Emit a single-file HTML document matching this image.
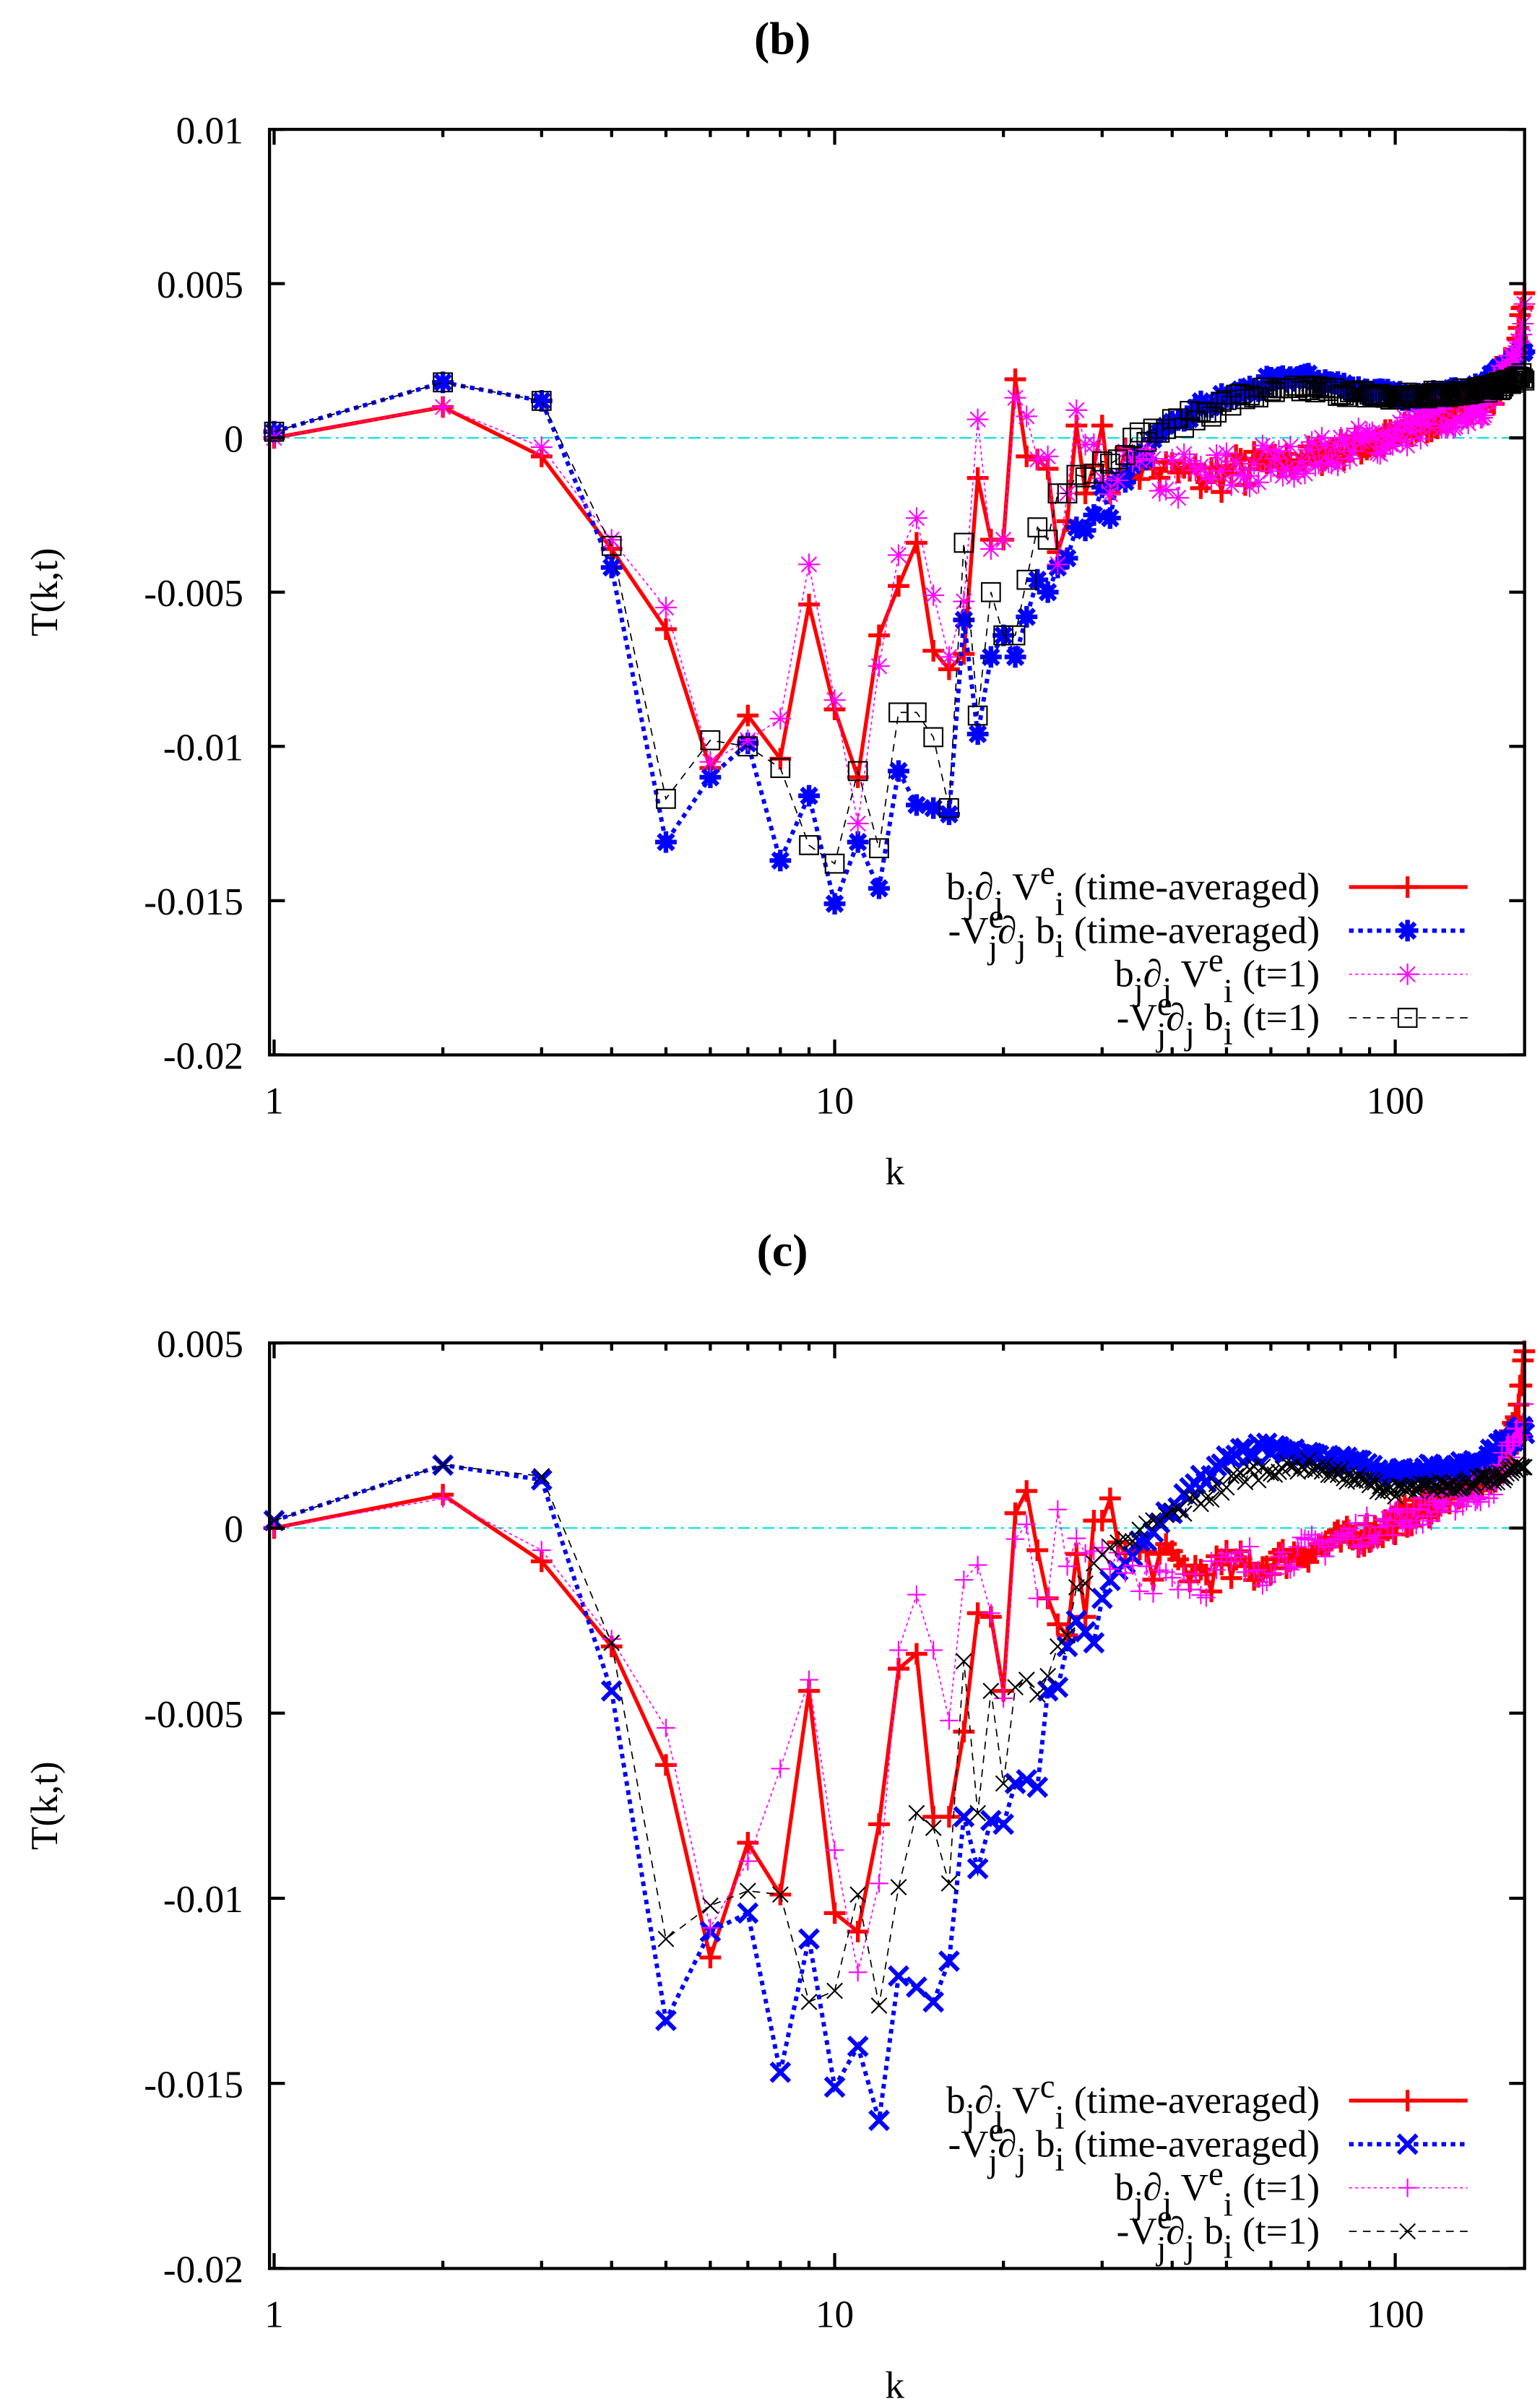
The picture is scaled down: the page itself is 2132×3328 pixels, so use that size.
<!DOCTYPE html>
<html><head><meta charset="utf-8"><style>html,body{margin:0;padding:0;background:#fff}svg{display:block}</style></head>
<body>
<svg id="s" width="2132" height="3328" viewBox="0 0 1000 1561" xmlns="http://www.w3.org/2000/svg" font-family="Liberation Serif, serif">
<rect width="1000" height="1561" fill="#fff"/>
<g id="g"></g>
</svg>
<script>
var g=document.getElementById('g');var out='';
var X0=178,DEC=364,R=990;
function xk(k){return X0+DEC*Math.log10(k);}
var seed=7;function rnd(){seed=(seed*16807)%2147483647;return seed/2147483647-0.5;}
function interp(anch,k){var lk=Math.log(k);for(var i=0;i<anch.length-1;i++){if(k<=anch[i+1][0]){var a=Math.log(anch[i][0]),b=Math.log(anch[i+1][0]);var t=(lk-a)/(b-a);return anch[i][1]+(anch[i+1][1]-anch[i][1])*t;}}return anch[anch.length-1][1];}
function series(first,anch,noise){var arr=first.slice();for(var k=first.length+1;k<=170;k++){var v=interp(anch,k)+noise*rnd()*(k<60?1.6:1);arr.push(v);}return arr;}
function marker(type,x,y,c,s,w){var o='';if(type=='plus'){o+='<path d="M'+(x-s)+' '+y+'H'+(x+s)+'M'+x+' '+(y-s)+'V'+(y+s)+'" stroke="'+c+'" stroke-width="'+w+'"/>';}
else if(type=='star'){var d=s*0.7;o+='<path d="M'+(x-s)+' '+y+'H'+(x+s)+'M'+x+' '+(y-s)+'V'+(y+s)+'M'+(x-d)+' '+(y-d)+'L'+(x+d)+' '+(y+d)+'M'+(x-d)+' '+(y+d)+'L'+(x+d)+' '+(y-d)+'" stroke="'+c+'" stroke-width="'+w+'"/>';}
else if(type=='x'){o+='<path d="M'+(x-s)+' '+(y-s)+'L'+(x+s)+' '+(y+s)+'M'+(x-s)+' '+(y+s)+'L'+(x+s)+' '+(y-s)+'" stroke="'+c+'" stroke-width="'+w+'"/>';}
else if(type=='sq'){o+='<rect x="'+(x-s)+'" y="'+(y-s)+'" width="'+(2*s)+'" height="'+(2*s)+'" fill="none" stroke="'+c+'" stroke-width="'+w+'"/>';}
return o;}
function panel(P){var top=P.top,bot=P.bot,ymax=P.ymax,ymin=P.ymin;
 function yv(v){return top+(ymax-v)/(ymax-ymin)*(bot-top);}
 var o='';
 o+='<text x="508" y="'+P.ty+'" font-size="30" font-weight="bold" text-anchor="middle">'+P.title+'</text>';
 // zero line
 o+='<line x1="175" x2="990" y1="'+yv(0)+'" y2="'+yv(0)+'" stroke="#00e0e0" stroke-width="1" stroke-dasharray="8,3,2,3"/>';
 // series
 P.S.forEach(function(s){var pts=s.d.map(function(v,i){return [xk(i+1),yv(v)];}).filter(function(p){return p[0]<=990.5;});
  o+='<polyline fill="none" points="'+pts.map(function(p){return p[0].toFixed(1)+','+p[1].toFixed(1);}).join(' ')+'" stroke="'+s.c+'" stroke-width="'+s.lw+'" '+(s.da?'stroke-dasharray="'+s.da+'"':'')+'/>';
  pts.forEach(function(p){o+=marker(s.m,p[0],p[1],s.c,s.ms,s.mw);});});
 // frame
 o+='<rect x="175" y="'+top+'" width="815" height="'+(bot-top)+'" fill="none" stroke="#000" stroke-width="2"/>';
 P.yt.forEach(function(v){var y=yv(v);o+='<path d="M175 '+y+'h10M990 '+y+'h-10" stroke="#000" stroke-width="2"/>';o+='<text x="158" y="'+(y+9)+'" font-size="25" text-anchor="end">'+P.yl(v)+'</text>';});
 for(var d=0;d<3;d++)for(var m=1;m<10;m++){var k=m*Math.pow(10,d);var x=xk(k);if(x>990)continue;var L=(m==1)?10:5;o+='<path d="M'+x+' '+bot+'v-'+L+'M'+x+' '+top+'v'+L+'" stroke="#000" stroke-width="2"/>';}
 [[1,'1'],[10,'10'],[100,'100']].forEach(function(a){o+='<text x="'+xk(a[0])+'" y="'+(bot+38)+'" font-size="25" text-anchor="middle">'+a[1]+'</text>';});
 o+='<text x="581" y="'+(bot+84)+'" font-size="25" text-anchor="middle">k</text>';
 var my=(top+bot)/2;o+='<text transform="translate(37,'+my+') rotate(-90)" font-size="25" text-anchor="middle">T(k,t)</text>';
 // legend
 P.L.forEach(function(l,i){var y=P.ly+i*28.3;var s=P.S[i];
  o+='<text x="857" y="'+(y+8)+'" font-size="25" text-anchor="end">'+l+'</text>';
  o+='<line x1="876" x2="953" y1="'+y+'" y2="'+y+'" stroke="'+s.c+'" stroke-width="'+s.lw+'" '+(s.da?'stroke-dasharray="'+s.da+'"':'')+'/>';
  o+=marker(s.m,914,y,s.c,s.ms,s.mw);});
 return o;}
function lab(a,b,c){return a;}
var subs=function(s){return s;};
// Panel b data
var bR=series([0,0.001,-0.0006,-0.0036,-0.0062,-0.0107,-0.009,-0.0104,-0.0054,-0.0088,-0.011,-0.0064,-0.0048,-0.0034,-0.0069,-0.0075,-0.007,-0.0013,-0.0033,-0.0033,0.0019,-0.0006,-0.0007,-0.001,-0.0037,-0.0027,0.0004,-0.0018,-0.0009,0.0004,-0.0018],[[31,-0.0008],[45,-0.0013],[60,-0.0009],[100,0],[150,0.0015],[165,0.003],[170,0.005]],0.0008);
var bB=series([0.0002,0.0018,0.0012,-0.0042,-0.0131,-0.011,-0.0099,-0.0137,-0.0116,-0.0151,-0.0131,-0.0146,-0.0108,-0.0119,-0.012,-0.0122,-0.0059,-0.0096,-0.0071,-0.0064,-0.0071,-0.0058,-0.0046,-0.005,-0.0042,-0.0039,-0.0029,-0.003,-0.0025,-0.0016,-0.0026],[[31,-0.0018],[38,0],[45,0.001],[60,0.0018],[68,0.002],[90,0.0015],[110,0.0013],[140,0.0016],[170,0.0028]],0.0003);
var bM=series([0,0.001,-0.0003,-0.0033,-0.0055,-0.0105,-0.0098,-0.0091,-0.0041,-0.0085,-0.0125,-0.0074,-0.0038,-0.0026,-0.0051,-0.0071,-0.0053,0.0006,-0.0036,-0.0033,0.0013,0.0007,-0.0007,-0.0006,-0.0041,-0.0018,0.0009],[[27,-0.001],[45,-0.0013],[60,-0.0009],[100,0.0001],[150,0.0013],[165,0.0028],[170,0.0045]],0.0011);
var bK=series([0.0002,0.0018,0.0012,-0.0035,-0.0117,-0.0098,-0.01,-0.0107,-0.0132,-0.0138,-0.0108,-0.0133,-0.0089,-0.0089,-0.0097,-0.012,-0.0034,-0.009,-0.005,-0.0064,-0.0064,-0.0046,-0.0029,-0.0033,-0.0018,-0.0018,-0.0012],[[27,-0.0014],[35,0],[55,0.0014],[70,0.0016],[100,0.0013],[150,0.0016],[170,0.002]],0.0003);
var cR=series([0,0.0009,-0.0009,-0.0032,-0.0064,-0.0116,-0.0085,-0.0099,-0.0044,-0.0104,-0.0109,-0.008,-0.0038,-0.0034,-0.0078,-0.0078,-0.0055,-0.0023,-0.0024,-0.0044,0.0004,0.001,-0.0006,-0.0019,-0.0026,-0.0029,-0.0007,-0.0024,0.0002,0.0002,0.0008],[[31,-0.0006],[45,-0.0012],[55,-0.0011],[95,0],[150,0.0015],[165,0.0028],[170,0.0048]],0.0007);
var cB=series([0.0002,0.0017,0.0013,-0.0044,-0.0133,-0.0109,-0.0104,-0.0147,-0.0111,-0.0151,-0.014,-0.016,-0.0121,-0.0124,-0.0128,-0.0117,-0.0078,-0.0092,-0.0079,-0.008,-0.0069,-0.0068,-0.007,-0.0044,-0.0043,-0.0032,-0.0025,-0.0028,-0.0031,-0.0019],[[30,-0.0014],[38,0.0002],[50,0.0019],[60,0.0021],[75,0.0019],[100,0.0015],[140,0.0017],[170,0.0027]],0.0003);
var cM=series([0,0.0008,-0.0006,-0.003,-0.0054,-0.0108,-0.009,-0.0065,-0.0041,-0.0087,-0.012,-0.0096,-0.0033,-0.0018,-0.0033,-0.0052,-0.0014,-0.001,-0.0023,-0.0046,-0.0003,0.0001,-0.0019,-0.0019,0.0005],[[25,-0.0008],[45,-0.0013],[60,-0.0009],[100,0.0002],[150,0.0012],[170,0.003]],0.0008);
var cK=series([0.0002,0.0017,0.0014,-0.0031,-0.0111,-0.0102,-0.0098,-0.0099,-0.0128,-0.0125,-0.0099,-0.0129,-0.0097,-0.0077,-0.0081,-0.0096,-0.0036,-0.0077,-0.0044,-0.0069,-0.0043,-0.0041,-0.0045,-0.004,-0.0032,-0.0029,-0.0016,-0.0015],[[28,-0.0012],[36,0],[55,0.0015],[70,0.0017],[100,0.001],[150,0.0013],[170,0.0017]],0.0003);
var sub='<tspan font-size="22" dy="9">j</tspan><tspan dy="-9">';
function L1(v){return 'b<tspan font-size="22" dy="9">j</tspan><tspan dy="-9">∂</tspan><tspan font-size="22" dy="9">j</tspan><tspan dy="-9"> V</tspan><tspan font-size="22" dy="-10">'+v+'</tspan><tspan font-size="22" dy="20">i</tspan><tspan dy="-10"> </tspan>';}
function L2(){return '-V<tspan font-size="22" dy="-10">e</tspan><tspan font-size="22" dx="-10" dy="20">j</tspan><tspan dy="-10">∂</tspan><tspan font-size="22" dy="9">j</tspan><tspan dy="-9"> b</tspan><tspan font-size="22" dy="9">i</tspan><tspan dy="-9"> </tspan>';}
out+=panel({title:'(b)',ty:35,top:84,bot:685,ymax:0.01,ymin:-0.02,yt:[0.01,0.005,0,-0.005,-0.01,-0.015,-0.02],yl:function(v){return v==0?'0':String(v);},
 S:[{d:bR,c:'#ff0000',lw:2.5,m:'plus',ms:7,mw:2.5},{d:bB,c:'#0000ff',lw:2.8,da:'3,3',m:'star',ms:7,mw:3},{d:bM,c:'#ff00ff',lw:0.8,da:'2,2',m:'star',ms:7,mw:1},{d:bK,c:'#000000',lw:0.8,da:'5,4',m:'sq',ms:6,mw:1}],
 ly:576,L:[L1('e')+'(time-averaged)',L2()+'(time-averaged)',L1('e')+' (t=1)',L2()+'(t=1)']});
out+=panel({title:'(c)',ty:822,top:872,bot:1473,ymax:0.005,ymin:-0.02,yt:[0.005,0,-0.005,-0.01,-0.015,-0.02],yl:function(v){return v==0?'0':String(v);},
 S:[{d:cR,c:'#ff0000',lw:2.5,m:'plus',ms:7,mw:2.5},{d:cB,c:'#0000ff',lw:2.8,da:'3,3',m:'x',ms:6,mw:2.8},{d:cM,c:'#ff00ff',lw:0.8,da:'2,2',m:'plus',ms:6,mw:1},{d:cK,c:'#000000',lw:0.8,da:'5,4',m:'x',ms:5,mw:1}],
 ly:1364,L:[L1('c')+'(time-averaged)',L2()+'(time-averaged)',L1('e')+'(t=1)',L2()+'(t=1)']});
g.innerHTML=out;
</script>
</body></html>
